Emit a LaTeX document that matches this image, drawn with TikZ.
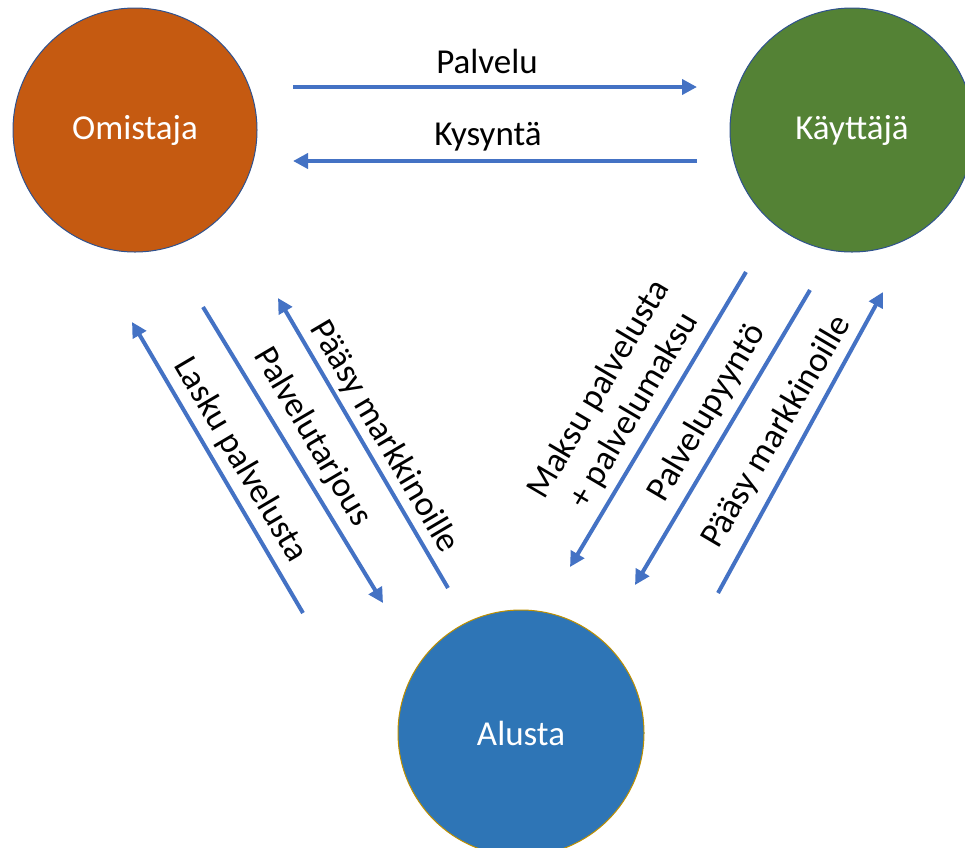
\documentclass[tikz,border=0pt]{standalone}
\usepackage{fontspec}
\setmainfont{Carlito}
\usetikzlibrary{arrows.meta}
\definecolor{omc}{HTML}{C55A11}
\definecolor{kac}{HTML}{548235}
\definecolor{alc}{HTML}{2E75B6}
\definecolor{bordc}{HTML}{2F528F}
\definecolor{goldc}{HTML}{BF9000}
\definecolor{arrc}{HTML}{4472C4}
\tikzset{
  actor/.style={circle, minimum size=244pt, inner sep=0pt, draw=bordc, line width=1pt, text=white, font=\fontsize{35}{42}\selectfont},
  flow/.style={draw=arrc, line width=4pt, -{Triangle[length=15pt,width=15pt]}},
  lbl/.style={font=\fontsize{35}{41}\selectfont, text=black, inner sep=0pt, align=center}
}
\begin{document}
\begin{tikzpicture}[x=1pt,y=-1pt]
\useasboundingbox (0,0) rectangle (965,847);
\clip (0,0) rectangle (965,847);
\node[actor, fill=omc] (om) at (135,130) {Omistaja};
\node[actor, fill=kac] (ka) at (852,130) {Käyttäjä};
\node[actor, fill=alc, draw=goldc, minimum size=246pt] (al) at (521,733) {Alusta};

% top arrows
\coordinate (p1) at (293,87); \coordinate (p2) at (697,87);
\coordinate (k1) at (697,161); \coordinate (k2) at (293,161);
\draw[flow] (p1) -- (p2);
\draw[flow] (k1) -- (k2);
\node[lbl] (lpal) at (487,61) {Palvelu};
\node[lbl] (lkys) at (488,137) {Kysyntä};

% left group
\coordinate (a1) at (303,613); \coordinate (a2) at (132,322);
\coordinate (b1) at (203,307); \coordinate (b2) at (383,603);
\coordinate (c1) at (448,588); \coordinate (c2) at (278,298);
\draw[flow] (a1) -- (a2);
\draw[flow] (b1) -- (b2);
\draw[flow] (c1) -- (c2);
\node[lbl, rotate=-59.5] (llas) at (240,460) {Lasku palvelusta};
\node[lbl, rotate=-59.5] (ltar) at (312,437) {Palvelutarjous};
\node[lbl, rotate=-59.5] (lpa1) at (384,437) {Pääsy markkinoille};

% right group
\coordinate (d1) at (746,272); \coordinate (d2) at (570,567);
\coordinate (e1) at (810,290); \coordinate (e2) at (635,585);
\coordinate (f1) at (718,593); \coordinate (f2) at (883,292);
\draw[flow] (d1) -- (d2);
\draw[flow] (e1) -- (e2);
\draw[flow] (f1) -- (f2);
\node[lbl, rotate=59.5] (lmak) at (617,400) {Maksu palvelusta\\+ palvelumaksu};
\node[lbl, rotate=59.5] (lpyy) at (707,413) {Palvelupyyntö};
\node[lbl, rotate=59.5] (lpa2) at (777,432) {Pääsy markkinoille};
\end{tikzpicture}
\end{document}
